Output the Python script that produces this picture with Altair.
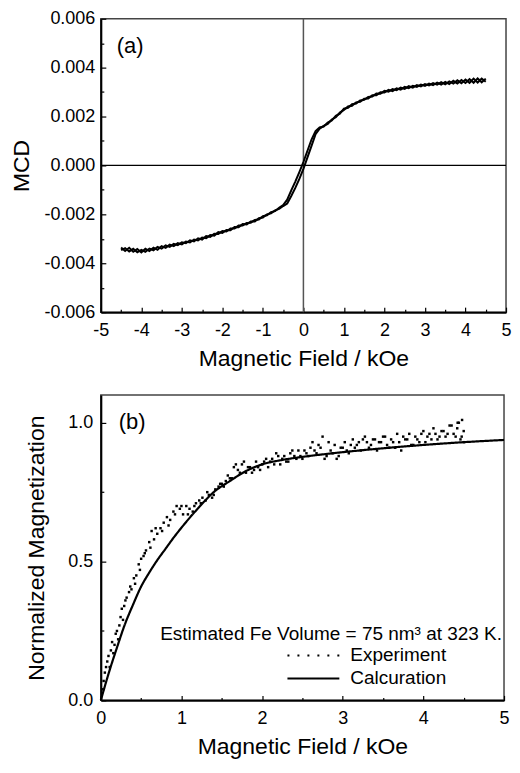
import altair as alt
import pandas as pd

FONT = "Liberation Sans"

# ---------------- panel (a): MCD hysteresis ----------------
field_top = [-4.5, -4.4, -4.3, -4.2, -4.1, -4.0, -3.9, -3.8, -3.7, -3.6,
             -3.5, -3.4, -3.3, -3.2, -3.1, -3.0, -2.9, -2.8, -2.7, -2.6,
             -2.5, -2.4, -2.3, -2.2, -2.1, -2.0, -1.9, -1.8, -1.7, -1.6,
             -1.5, -1.4, -1.3, -1.2, -1.1, -1.0, -0.9, -0.8, -0.7, -0.6,
             -0.5, -0.4, -0.3, -0.2, -0.1, 0.0, 0.1, 0.2, 0.3, 0.4,
             0.5, 0.6, 0.7, 0.8, 0.9, 1.0, 1.1, 1.2, 1.3, 1.4,
             1.5, 1.6, 1.7, 1.8, 1.9, 2.0, 2.1, 2.2, 2.3, 2.4,
             2.5, 2.6, 2.7, 2.8, 2.9, 3.0, 3.1, 3.2, 3.3, 3.4,
             3.5, 3.6, 3.7, 3.8, 3.9, 4.0, 4.1, 4.2, 4.3, 4.4,
             4.5]

mcd_up = [-0.00336, -0.00350, -0.00337, -0.00353, -0.00342, -0.00356, -0.00341, -0.00350, -0.00336, -0.00345,
          -0.00330, -0.00337, -0.00324, -0.00330, -0.00318, -0.00323, -0.00311, -0.00315, -0.00303, -0.00307,
          -0.00295, -0.00298, -0.00285, -0.00287, -0.00273, -0.00276, -0.00264, -0.00265, -0.00252, -0.00253,
          -0.00240, -0.00241, -0.00229, -0.00229, -0.00216, -0.00213, -0.00200, -0.00196, -0.00184, -0.00178,
          -0.00166, -0.00156, -0.00125, -0.00092, -0.00055, -0.00014, 0.00033, 0.00080, 0.00128, 0.00150,
          0.00162, 0.00170, 0.00188, 0.00197, 0.00216, 0.00227, 0.00241, 0.00244, 0.00258, 0.00260,
          0.00273, 0.00274, 0.00287, 0.00287, 0.00299, 0.00298, 0.00309, 0.00304, 0.00315, 0.00310,
          0.00321, 0.00316, 0.00326, 0.00321, 0.00331, 0.00325, 0.00335, 0.00328, 0.00339, 0.00331,
          0.00342, 0.00333, 0.00346, 0.00335, 0.00349, 0.00337, 0.00353, 0.00338, 0.00356, 0.00340,
          0.00355]

mcd_down = [-0.00346, -0.00338, -0.00352, -0.00341, -0.00355, -0.00345, -0.00353, -0.00340, -0.00347, -0.00333,
            -0.00340, -0.00327, -0.00333, -0.00321, -0.00326, -0.00314, -0.00318, -0.00306, -0.00311, -0.00298,
            -0.00303, -0.00289, -0.00292, -0.00279, -0.00280, -0.00268, -0.00270, -0.00258, -0.00258, -0.00246,
            -0.00246, -0.00235, -0.00234, -0.00223, -0.00221, -0.00208, -0.00204, -0.00191, -0.00187, -0.00173,
            -0.00162, -0.00140, -0.00102, -0.00066, -0.00027, 0.00014, 0.00060, 0.00106, 0.00140, 0.00155,
            0.00159, 0.00175, 0.00184, 0.00203, 0.00212, 0.00232, 0.00236, 0.00250, 0.00253, 0.00266,
            0.00268, 0.00280, 0.00282, 0.00294, 0.00293, 0.00305, 0.00302, 0.00312, 0.00308, 0.00318,
            0.00313, 0.00324, 0.00318, 0.00329, 0.00323, 0.00333, 0.00327, 0.00337, 0.00330, 0.00341,
            0.00332, 0.00344, 0.00335, 0.00348, 0.00336, 0.00351, 0.00338, 0.00355, 0.00339, 0.00355,
            0.00342]

x_ticks_a = [-5, -4, -3, -2, -1, 0, 1, 2, 3, 4, 5]
x_minor_a = [-4.5, -3.5, -2.5, -1.5, -0.5, 0.5, 1.5, 2.5, 3.5, 4.5]
y_ticks_a = [-0.006, -0.004, -0.002, 0.0, 0.002, 0.004, 0.006]
y_minor_a = [-0.005, -0.003, -0.001, 0.001, 0.003, 0.005]

# ---------------- panel (b): normalized magnetization ----------------
field_exp = [0.02, 0.05, 0.08, 0.11, 0.14, 0.17, 0.20, 0.23, 0.26, 0.29,
             0.32, 0.35, 0.38, 0.41, 0.44, 0.47, 0.50, 0.53, 0.56, 0.60,
             0.63, 0.66, 0.70, 0.74, 0.78, 0.82, 0.86, 0.90, 0.94, 0.98,
             1.02, 1.06, 1.10, 1.14, 1.18, 1.22, 1.26, 1.30, 1.34, 1.38,
             1.42, 1.46, 1.50, 1.55, 1.60, 1.65, 1.70, 1.75, 1.80, 1.85,
             1.90, 1.95, 2.00, 2.05, 2.10, 2.15, 2.20, 2.25, 2.30, 2.35,
             2.40, 2.45, 2.50, 2.55, 2.60, 2.65, 2.70, 2.75, 2.80, 2.85,
             2.90, 2.95, 3.00, 3.05, 3.10, 3.15, 3.20, 3.25, 3.30, 3.35,
             3.40, 3.45, 3.50, 3.55, 3.60, 3.65, 3.70, 3.75, 3.80, 3.85,
             3.90, 3.95, 4.00, 4.05, 4.10, 4.15, 4.20, 4.25, 4.30, 4.35,
             4.40, 4.42, 4.44, 4.46, 4.48, 4.50, 4.50]
norm_exp = [0.04, 0.10, 0.14, 0.12, 0.21, 0.20, 0.25, 0.27, 0.33, 0.34,
            0.37, 0.39, 0.40, 0.44, 0.45, 0.49, 0.51, 0.52, 0.54, 0.57,
            0.61, 0.58, 0.60, 0.62, 0.64, 0.66, 0.65, 0.68, 0.70, 0.69,
            0.67, 0.70, 0.69, 0.68, 0.71, 0.72, 0.73, 0.72, 0.74, 0.73,
            0.76, 0.77, 0.78, 0.79, 0.80, 0.84, 0.83, 0.85, 0.82, 0.84,
            0.83, 0.84, 0.85, 0.87, 0.86, 0.85, 0.88, 0.87, 0.86, 0.89,
            0.88, 0.90, 0.87, 0.89, 0.91, 0.90, 0.92, 0.95, 0.88, 0.90,
            0.92, 0.88, 0.91, 0.90, 0.92, 0.91, 0.93, 0.94, 0.93, 0.92,
            0.94, 0.93, 0.95, 0.92, 0.94, 0.91, 0.93, 0.95, 0.94, 0.92,
            0.95, 0.93, 0.97, 0.95, 0.94, 0.96, 0.95, 0.97, 0.96, 0.99,
            0.95, 0.98, 1.00, 0.94, 1.01, 0.97, 0.93]

# second sweep of the measurement (interleaved points)
field_exp2 = [0.035, 0.065, 0.095, 0.125, 0.155, 0.185, 0.215, 0.245, 0.275, 0.305,
              0.365, 0.425, 0.485, 0.545, 0.615, 0.68, 0.76, 0.84, 0.92, 1.00,
              1.08, 1.16, 1.24, 1.32, 1.40, 1.48, 1.525, 1.575, 1.625, 1.675,
              1.725, 1.775, 1.825, 1.875, 1.925, 1.975, 2.025, 2.075, 2.125, 2.175,
              2.225, 2.275, 2.325, 2.375, 2.425, 2.475, 2.525, 2.575, 2.625, 2.675,
              2.725, 2.775, 2.825, 2.875, 2.925, 2.975, 3.025, 3.075, 3.125, 3.175,
              3.225, 3.275, 3.325, 3.375, 3.425, 3.475, 3.525, 3.575, 3.625, 3.675,
              3.725, 3.775, 3.825, 3.875, 3.925, 3.975, 4.025, 4.075, 4.125, 4.175,
              4.225, 4.275, 4.325, 4.375, 4.425, 4.475]
norm_exp2 = [0.07, 0.12, 0.16, 0.18, 0.17, 0.24, 0.22, 0.30, 0.29, 0.36,
             0.41, 0.42, 0.47, 0.53, 0.55, 0.62, 0.61, 0.63, 0.67, 0.70,
             0.67, 0.70, 0.71, 0.75, 0.74, 0.78, 0.77, 0.81, 0.80, 0.85,
             0.82, 0.86, 0.84, 0.82, 0.86, 0.83, 0.86, 0.84, 0.87, 0.89,
             0.85, 0.88, 0.86, 0.90, 0.87, 0.88, 0.90, 0.88, 0.93, 0.89,
             0.91, 0.87, 0.93, 0.89, 0.87, 0.91, 0.93, 0.89, 0.94, 0.92,
             0.90, 0.95, 0.91, 0.94, 0.90, 0.93, 0.95, 0.91, 0.93, 0.96,
             0.90, 0.94, 0.96, 0.92, 0.94, 0.96, 0.93, 0.96, 0.98, 0.94,
             0.97, 0.95, 0.99, 0.96, 1.00, 0.95]

field_calc = [0.0, 0.1, 0.2, 0.3, 0.4, 0.5, 0.6, 0.7, 0.8, 0.9, 1.0, 1.2,
              1.4, 1.6, 1.8, 2.0, 2.25, 2.5, 2.75, 3.0, 3.5, 4.0, 4.5, 5.0]
norm_calc = [0.0, 0.10, 0.19, 0.275, 0.345, 0.41, 0.46, 0.505, 0.545, 0.585, 0.622, 0.69,
             0.75, 0.79, 0.826, 0.85, 0.866, 0.877, 0.886, 0.894, 0.908, 0.92, 0.93, 0.938]

series_names = ["Experiment", "Calcuration"]
annotation = "Estimated Fe Volume = 75 nm\u00b3 at 323 K."

x_ticks_b = [0, 1, 2, 3, 4, 5]
x_minor_b = [0.5, 1.5, 2.5, 3.5, 4.5]
y_ticks_b = [0.0, 0.5, 1.0]
y_minor_b = [0.25, 0.75]

W_A, W_B = 406, 404
H_A, H_B, GAP = 294, 306, 83


def signed_fmt(f):
    return f"datum.value < 0 ? '-' + format(-datum.value, '{f}') : format(datum.value, '{f}')"


def main_axis(orient, values, title, label_expr, label_padding, title_padding):
    return alt.Axis(orient=orient, values=values, labelExpr=label_expr, ticks=False, grid=False,
                    domain=True, domainColor="black", domainWidth=2, labelPadding=label_padding,
                    labelFontSize=18, labelFont=FONT, labelColor="black", labelFlush=False,
                    labelOverlap=False, title=title, titleFont=FONT, titleFontSize=23,
                    titleFontWeight="normal", titleColor="black", titlePadding=title_padding)


def tick_axis(orient, values, size):
    return alt.Axis(orient=orient, values=values, ticks=True, tickSize=size, offset=-size,
                    tickColor="black", tickWidth=1.2, labels=False, domain=False, grid=False,
                    title=None)


one_row = pd.DataFrame({"origin": [0.0]})

# ---- panel (a)
df_top = pd.DataFrame({
    "field": field_top + field_top,
    "mcd": mcd_up + mcd_down,
    "branch": ["up"] * len(field_top) + ["down"] * len(field_top),
})
sx_a = alt.Scale(domain=[-5, 5], nice=False, zero=False)
sy_a = alt.Scale(domain=[-0.006, 0.006], nice=False, zero=False)

curve_a = alt.Chart(df_top).mark_line(color="black", strokeWidth=2.0).encode(
    x=alt.X("field:Q", scale=sx_a,
            axis=main_axis("bottom", x_ticks_a, "Magnetic Field / kOe", signed_fmt("d"), 9, 8)),
    y=alt.Y("mcd:Q", scale=sy_a,
            axis=main_axis("left", y_ticks_a, "MCD", signed_fmt(".3f"), 6, 10)),
    detail="branch:N",
)
major_a = alt.Chart(df_top).mark_point(opacity=0).encode(
    x=alt.X("field:Q", scale=sx_a, axis=tick_axis("bottom", x_ticks_a, 5)),
    y=alt.Y("mcd:Q", scale=sy_a, axis=tick_axis("left", y_ticks_a, 5)),
)
minor_a = alt.Chart(df_top).mark_point(opacity=0).encode(
    x=alt.X("field:Q", scale=sx_a, axis=tick_axis("bottom", x_minor_a, 3)),
    y=alt.Y("mcd:Q", scale=sy_a, axis=tick_axis("left", y_minor_a, 3)),
)
vline_a = alt.Chart(one_row).mark_rule(color="#555", strokeWidth=1.5).encode(
    x=alt.X("origin:Q", scale=sx_a, axis=None))
hline_a = alt.Chart(one_row).mark_rule(color="black", strokeWidth=1.2).encode(
    y=alt.Y("origin:Q", scale=sy_a, axis=None))
label_a = alt.Chart(one_row).mark_text(text="(a)", align="left", baseline="middle", fontSize=22,
                                       font=FONT, color="black").encode(
    x=alt.value(16), y=alt.value(27.5))

panel_a = alt.layer(vline_a, hline_a, curve_a, major_a, minor_a, label_a).resolve_axis(
    x="independent", y="independent").properties(width=W_A, height=H_A)

# ---- panel (b)
df_exp = pd.DataFrame({"field": field_exp + field_exp2, "norm": norm_exp + norm_exp2})
df_calc = pd.DataFrame({"field": field_calc, "norm": norm_calc,
                        "series": [series_names[1]] * len(field_calc)})
sx_b = alt.Scale(domain=[0, 5], nice=False, zero=False)
sy_b = alt.Scale(domain=[0, 1.1], nice=False, zero=False)

exp_b = alt.Chart(df_exp).mark_square(size=6, color="black", opacity=1).encode(
    x=alt.X("field:Q", scale=sx_b,
            axis=main_axis("bottom", x_ticks_b, "Magnetic Field / kOe", signed_fmt("d"), 9, 8)),
    y=alt.Y("norm:Q", scale=sy_b,
            axis=main_axis("left", y_ticks_b, "Normalized Magnetization", signed_fmt(".1f"), 8, 19)),
)
calc_b = alt.Chart(df_calc).mark_line(color="black", strokeWidth=2.2, interpolate="monotone").encode(
    x=alt.X("field:Q", scale=sx_b, axis=None),
    y=alt.Y("norm:Q", scale=sy_b, axis=None),
    strokeDash=alt.StrokeDash(
        "series:N",
        scale=alt.Scale(domain=series_names, range=[[2, 8], [1, 0]]),
        legend=alt.Legend(orient="none", legendX=186, legendY=H_A + GAP + 250, title=None,
                          symbolType="stroke", symbolSize=2704, symbolStrokeWidth=2,
                          symbolStrokeColor="black", clipHeight=22, rowPadding=1,
                          labelOffset=10, labelFontSize=19, labelFont=FONT,
                          labelColor="black", padding=0),
    ),
)
major_b = alt.Chart(df_exp).mark_point(opacity=0).encode(
    x=alt.X("field:Q", scale=sx_b, axis=tick_axis("bottom", x_ticks_b, 5)),
    y=alt.Y("norm:Q", scale=sy_b, axis=tick_axis("left", y_ticks_b, 5)),
)
minor_b = alt.Chart(df_exp).mark_point(opacity=0).encode(
    x=alt.X("field:Q", scale=sx_b, axis=tick_axis("bottom", x_minor_b, 3)),
    y=alt.Y("norm:Q", scale=sy_b, axis=tick_axis("left", y_minor_b, 3)),
)
label_b = alt.Chart(one_row).mark_text(text="(b)", align="left", baseline="middle", fontSize=22,
                                       font=FONT, color="black").encode(
    x=alt.value(18), y=alt.value(27))
note_b = alt.Chart(one_row).mark_text(text=annotation, align="right", baseline="alphabetic",
                                      fontSize=19, font=FONT, color="black").encode(
    x=alt.value(402), y=alt.value(245.5))

panel_b = alt.layer(calc_b, exp_b, major_b, minor_b, label_b, note_b).resolve_axis(
    x="independent", y="independent").properties(width=W_B, height=H_B)

chart = alt.vconcat(panel_a, panel_b, spacing=GAP, bounds="flush").properties(
    padding={"left": 2, "top": 0, "right": 0, "bottom": 0}
).configure(font=FONT).configure_view(stroke="#444", strokeWidth=1.5)

chart.save("out.html", embed_options={"renderer": "svg", "actions": False})
